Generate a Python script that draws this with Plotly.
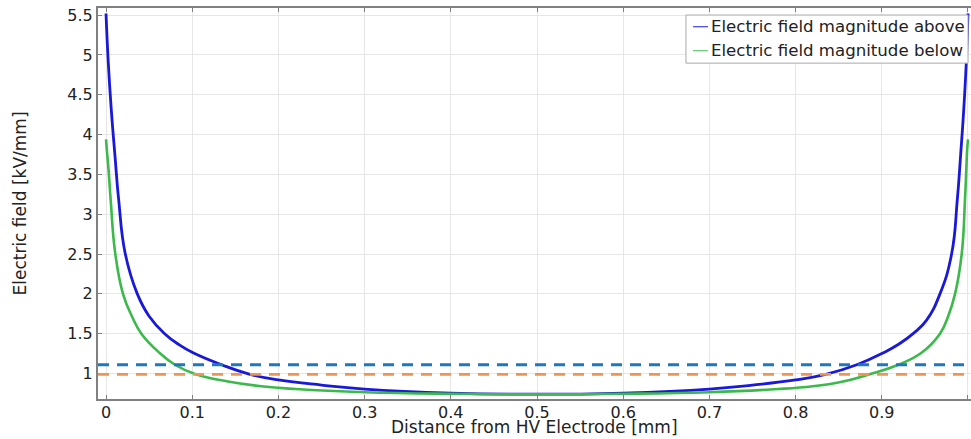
import plotly.graph_objects as go

# ---- data ----
x_above = [0, 0.0025, 0.006, 0.0105, 0.0147, 0.0224, 0.0363, 0.05, 0.068, 0.085, 0.101, 0.134,
           0.167, 0.2, 0.25, 0.3, 0.4, 0.5, 0.6, 0.7, 0.75, 0.8, 0.835, 0.871, 0.9018, 0.92,
           0.9374, 0.952, 0.9675, 0.981, 0.9876, 0.9915, 0.995, 0.998, 1.0]
e_above = [5.52, 4.93, 4.33, 3.72, 3.18, 2.5, 2.0, 1.72, 1.5, 1.36, 1.26, 1.11,
           0.99, 0.92, 0.855, 0.805, 0.755, 0.74, 0.755, 0.805, 0.855, 0.92, 0.99, 1.11, 1.26, 1.37,
           1.51, 1.67, 2.0, 2.5, 3.18, 3.75, 4.3, 4.9, 5.52]

x_below = [0, 0.001, 0.003, 0.0054, 0.0108, 0.0197, 0.03, 0.041, 0.062, 0.08, 0.104,
           0.1415, 0.18, 0.22, 0.3, 0.4, 0.5, 0.6, 0.7, 0.78, 0.82, 0.851, 0.886, 0.9192, 0.946,
           0.9675, 0.977, 0.985, 0.9927, 0.9965, 0.998, 0.999, 1.0]
e_below = [3.94, 3.80, 3.55, 3.18, 2.5, 2.0, 1.72, 1.5, 1.26, 1.11, 0.99,
           0.90, 0.84, 0.805, 0.765, 0.745, 0.74, 0.745, 0.765, 0.805, 0.84, 0.89, 0.99, 1.11, 1.26,
           1.5, 1.72, 2.0, 2.5, 3.18, 3.55, 3.80, 3.94]

thresholds = [1.11, 0.99]
threshold_colors = ["rgb(31,119,190)", "rgb(238,148,85)"]

series_names = ["Electric field magnitude above", "Electric field magnitude below"]
series_colors = ["rgb(25,25,215)", "rgb(60,185,75)"]

x_ticks = [0, 0.1, 0.2, 0.3, 0.4, 0.5, 0.6, 0.7, 0.8, 0.9, 1]
x_ticklabels = ["0", "0.1", "0.2", "0.3", "0.4", "0.5", "0.6", "0.7", "0.8", "0.9", "1"]
y_ticks = [1, 1.5, 2, 2.5, 3, 3.5, 4, 4.5, 5, 5.5]
y_ticklabels = ["1", "1.5", "2", "2.5", "3", "3.5", "4", "4.5", "5", "5.5"]

x_title = "Distance from HV Electrode [mm]"
y_title = "Electric field [kV/mm]"

FONT = "DejaVu Sans"
TXT = "#222222"

fig = go.Figure()

fig.add_trace(go.Scatter(x=x_above, y=e_above, mode="lines", name=series_names[0],
                         line=dict(color=series_colors[0], width=2.8, shape="spline", smoothing=1.3),
                         showlegend=False))
fig.add_trace(go.Scatter(x=x_below, y=e_below, mode="lines", name=series_names[1],
                         line=dict(color=series_colors[1], width=2.6, shape="spline", smoothing=1.3),
                         showlegend=False))

shapes = []
for val, col in zip(thresholds, threshold_colors):
    shapes.append(dict(type="line", xref="x domain", yref="y", x0=0, x1=1, y0=val, y1=val,
                       line=dict(color=col, width=2.8, dash="11px,8px"), layer="above"))

# manual legend box (paper coordinates)
shapes.append(dict(type="rect", xref="paper", yref="paper", x0=0.6735, x1=0.9966, y0=0.859, y1=0.982,
                   fillcolor="white", line=dict(color="#a8a8a8", width=1), layer="above"))
annotations = []
rows_y = [0.952, 0.8906]
for name, col, yy in zip(series_names, series_colors, rows_y):
    shapes.append(dict(type="line", xref="paper", yref="paper", x0=0.6816, x1=0.6987, y0=yy, y1=yy,
                       line=dict(color=col, width=1), layer="above"))
    annotations.append(dict(xref="paper", yref="paper", x=0.6995, y=yy, text=name, showarrow=False,
                            xanchor="left", yanchor="middle", font=dict(family=FONT, size=16.6, color=TXT)))

annotations.append(dict(xref="paper", yref="paper", x=0.5, y=-0.0716, text=x_title, showarrow=False,
                        xanchor="center", yanchor="middle", font=dict(family=FONT, size=17, color=TXT)))

fig.update_layout(
    width=971, height=439,
    margin=dict(l=98, r=0, t=8, b=40),
    paper_bgcolor="white", plot_bgcolor="white",
    font=dict(family=FONT, size=16, color=TXT),
    shapes=shapes, annotations=annotations,
    showlegend=False,
)
fig.update_xaxes(range=[-0.0093, 1.0035], tickvals=x_ticks, ticktext=x_ticklabels,
                 showgrid=True, gridcolor="#e6e6e6", gridwidth=1, zeroline=False,
                 showline=True, linecolor="#808080", linewidth=2, mirror="ticks",
                 ticks="inside", ticklen=4, tickcolor="#808080", ticklabelstandoff=-2,
                 tickfont=dict(family=FONT, size=16, color=TXT))
fig.update_yaxes(range=[0.68, 5.59], tickvals=y_ticks, ticktext=y_ticklabels,
                 showgrid=True, gridcolor="#e6e6e6", gridwidth=1, zeroline=False,
                 showline=True, linecolor="#808080", linewidth=2,
                 ticks="inside", ticklen=4, tickcolor="#808080",
                 tickfont=dict(family=FONT, size=16, color=TXT),
                 title=dict(text=y_title, standoff=36,
                            font=dict(family=FONT, size=17, color=TXT)))

fig.write_html("out.html")
